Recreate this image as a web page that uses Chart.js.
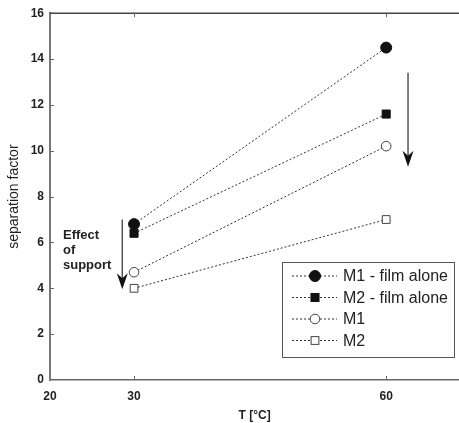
<!DOCTYPE html>
<html>
<head>
<meta charset="utf-8">
<script src="https://cdn.jsdelivr.net/npm/chart.js@4"></script>
<style>
  body { margin: 0; background: #fff; overflow: hidden; }
  #wrap { width: 466px; height: 423px; position: relative; }
</style>
</head>
<body>
<div id="wrap"><canvas id="c"></canvas></div>
<script>
// data
const temps = [30, 60];
const m1Film = [6.8, 14.5];
const m2Film = [6.4, 11.6];
const m1 = [4.7, 10.2];
const m2 = [4.0, 7.0];
const seriesNames = ["M1 - film alone", "M2 - film alone", "M1", "M2"];
const xTicks = [20, 30, 60];

const ink = "#333";
const axisCol = "#666";
const fontFam = "'Liberation Sans', Arial, sans-serif";

function pts(ys) { return temps.map((t, i) => ({ x: t, y: ys[i] })); }

function ds(label, ys, style, radius, filled) {
    return {
        label: label,
        data: pts(ys),
        borderColor: ink,
        borderWidth: 1,
        borderDash: [2, 2],
        pointStyle: style,
        pointRadius: radius,
        pointBackgroundColor: filled ? "#111" : "#fff",
        pointBorderColor: filled ? "#111" : "#444",
        pointBorderWidth: 1,
        fill: false
    };
}

const decor = {
    id: "decor",
    afterDraw(chart) {
        const c = chart.ctx, xs = chart.scales.x, ys = chart.scales.y, a = chart.chartArea;
        c.save();
        // top border + inward ticks
        c.strokeStyle = "#444";
        c.lineWidth = 1.5;
        c.beginPath(); c.moveTo(a.left, a.top); c.lineTo(a.right, a.top); c.stroke();
        c.lineWidth = 1;
        c.strokeStyle = axisCol;
        [30, 60].forEach(v => {
            const px = Math.round(xs.getPixelForValue(v)) + 0.5;
            c.beginPath(); c.moveTo(px, a.top); c.lineTo(px, a.top + 4); c.stroke();
            c.beginPath(); c.moveTo(px, a.bottom); c.lineTo(px, a.bottom - 4); c.stroke();
        });
        for (let v = 2; v < 16; v += 2) {
            const py = Math.round(ys.getPixelForValue(v)) + 0.5;
            c.beginPath(); c.moveTo(a.left, py); c.lineTo(a.left + 4, py); c.stroke();
        }

        // arrows
        function arrow(xv, y0, y1) {
            const px = xs.getPixelForValue(xv);
            const p0 = ys.getPixelForValue(y0), p1 = ys.getPixelForValue(y1);
            c.strokeStyle = "#555"; c.lineWidth = 1.5;
            c.beginPath(); c.moveTo(px, p0); c.lineTo(px, p1 - 10); c.stroke();
            c.fillStyle = "#111";
            c.beginPath();
            c.moveTo(px - 5.5, p1 - 16);
            c.lineTo(px, p1 - 11);
            c.lineTo(px + 5.5, p1 - 16);
            c.lineTo(px, p1);
            c.closePath(); c.fill();
        }
        arrow(62.6, 13.4, 9.3);
        arrow(28.6, 7.0, 3.96);

        // annotation text
        c.fillStyle = "#222";
        c.font = "bold 13px " + fontFam;
        c.textAlign = "left"; c.textBaseline = "middle";
        ["Effect", "of", "support"].forEach((t, i) => c.fillText(t, 63, 235 + i * 15));

        // legend box
        const lx = 282, ly = 262, lw = 172, lh = 95;
        c.fillStyle = "#fff";
        c.fillRect(lx, ly, lw, lh);
        c.strokeStyle = "#555"; c.lineWidth = 1;
        c.strokeRect(lx + 0.5, ly + 0.5, lw, lh);
        chart.data.datasets.forEach((d, i) => {
            const ry = 276 + i * 21.5;
            c.strokeStyle = ink; c.lineWidth = 1; c.setLineDash([2, 2]);
            c.beginPath(); c.moveTo(292, ry); c.lineTo(337, ry); c.stroke();
            c.setLineDash([]);
            c.fillStyle = d.pointBackgroundColor; c.strokeStyle = d.pointBorderColor;
            if (d.pointStyle === "circle") {
                c.beginPath(); c.arc(315, ry, d.pointRadius, 0, Math.PI * 2); c.fill(); c.stroke();
            } else {
                const s = d.pointRadius * Math.SQRT1_2;
                c.fillRect(315 - s, ry - s, 2 * s, 2 * s);
                c.strokeRect(315 - s, ry - s, 2 * s, 2 * s);
            }
            c.fillStyle = "#222";
            c.font = "16px " + fontFam;
            c.textAlign = "left"; c.textBaseline = "middle";
            c.fillText(d.label, 343, ry + 1);
        });
        c.restore();
    }
};

new Chart(document.getElementById("c"), {
    type: "line",
    data: {
        datasets: [
            ds(seriesNames[0], m1Film, "circle", 5.5, true),
            ds(seriesNames[1], m2Film, "rect", 5.7, true),
            ds(seriesNames[2], m1, "circle", 4.8, false),
            ds(seriesNames[3], m2, "rect", 5.5, false)
        ]
    },
    options: {
        responsive: true,
        maintainAspectRatio: false,
        animation: false,
        layout: { padding: { top: 13, right: 0, left: 0, bottom: 0 } },
        plugins: { legend: { display: false }, tooltip: { enabled: false } },
        scales: {
            x: {
                type: "linear",
                min: 20,
                max: 68.7,
                afterBuildTicks: s => { s.ticks = xTicks.map(v => ({ value: v })); },
                afterFit: s => { s.height = 43; },
                grid: { display: false, drawTicks: false },
                border: { display: true, color: axisCol, width: 1.5 },
                ticks: {
                    padding: 9,
                    color: "#222",
                    font: { family: fontFam, size: 12, weight: "bold" }
                },
                title: {
                    display: true,
                    text: "T [°C]",
                    color: "#222",
                    padding: { top: 4, bottom: 0 },
                    font: { family: fontFam, size: 12, weight: "bold" }
                }
            },
            y: {
                min: 0,
                max: 16,
                afterFit: s => { s.width = 50; },
                grid: { display: false, drawTicks: false },
                border: { display: true, color: "#777", width: 2 },
                ticks: {
                    stepSize: 2,
                    padding: 6,
                    color: "#222",
                    font: { family: fontFam, size: 12, weight: "bold" }
                },
                title: {
                    display: true,
                    text: "separation factor",
                    color: "#222",
                    padding: { top: 6, bottom: 0 },
                    font: { family: fontFam, size: 14 }
                }
            }
        }
    },
    plugins: [decor]
});
</script>
</body>
</html>
